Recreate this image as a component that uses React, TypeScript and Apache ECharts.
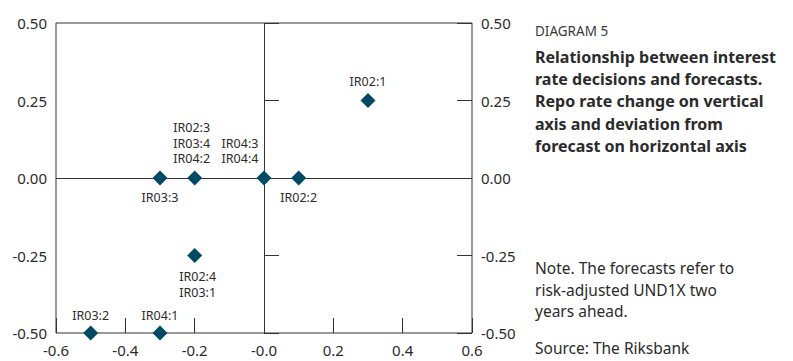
import React, { useEffect, useRef } from "react";
import * as echarts from "echarts";

// Data
const pointNames = [
  "IR02:1",
  "IR02:2",
  "IR02:3\nIR03:4\nIR04:2",
  "IR04:3\nIR04:4",
  "IR03:3",
  "IR02:4\nIR03:1",
  "IR03:2",
  "IR04:1",
];
const forecastDeviation = [0.3, 0.1, -0.2, 0.0, -0.3, -0.2, -0.5, -0.3];
const repoRateChange = [0.25, 0.0, 0.0, 0.0, 0.0, -0.25, -0.5, -0.5];

const diagramLabel = "DIAGRAM 5";
const titleLines = [
  "Relationship between interest",
  "rate decisions and forecasts.",
  "Repo rate change on vertical",
  "axis and deviation from",
  "forecast on horizontal axis",
];
const noteLines = [
  "Note. The forecasts refer to",
  "risk-adjusted UND1X two",
  "years ahead.",
];
const sourceText = "Source: The Riksbank";

const MARKER = "#004a66";
const AXIS = "#333333";
const TEXT = "#2b2b2b";
const FONT = "'Noto Sans', 'Open Sans', sans-serif";

// label placement per point (style only)
const labelPlacement: Record<number, any> = {
  0: { position: "top", distance: 4 },
  1: { position: "bottom", distance: 4 },
  2: { position: "top", distance: 4, offset: [-3, 0] },
  3: { position: "top", distance: 4, offset: [-24, 0] },
  4: { position: "bottom", distance: 4 },
  5: { position: "bottom", distance: 6, offset: [3, 0] },
  6: { position: "top", distance: 2 },
  7: { position: "top", distance: 2 },
};

export default function App() {
  const ref = useRef<HTMLDivElement>(null);

  useEffect(() => {
    if (!ref.current) return;
    const chart = echarts.init(ref.current, null, { renderer: "svg" });

    const data = pointNames.map((name, i) => ({
      name,
      value: [forecastDeviation[i], repoRateChange[i]],
      label: {
        show: true,
        formatter: name,
        color: TEXT,
        ...labelPlacement[i],
      },
    }));

    const yAxisCommon = {
      type: "value",
      min: -0.5,
      max: 0.5,
      interval: 0.25,
      axisLine: { show: false },
      axisTick: {
        show: true,
        inside: true,
        length: 15,
        lineStyle: { color: AXIS, width: 1 },
      },
      splitLine: { show: false },
      axisLabel: {
        color: TEXT,
        fontFamily: FONT,
        fontSize: 15,
        margin: 9,
        formatter: (v: number) => v.toFixed(2),
      },
    };

    const textStyle = (bold: boolean, size: number) => ({
      fill: TEXT,
      font: `${bold ? "bold " : ""}${size}px ${FONT}`,
    });

    const graphics: any[] = [];
    graphics.push({
      type: "text",
      left: 535,
      top: 24,
      style: { text: diagramLabel, ...textStyle(false, 13.5), fill: "#3a3a3a" },
    });
    titleLines.forEach((t, i) => {
      graphics.push({
        type: "text",
        left: 535,
        top: 49 + i * 22.2,
        style: { text: t, ...textStyle(true, 16) },
      });
    });
    noteLines.forEach((t, i) => {
      graphics.push({
        type: "text",
        left: 535,
        top: 260 + i * 21.5,
        style: { text: t, ...textStyle(false, 15.5) },
      });
    });
    graphics.push({
      type: "text",
      left: 535,
      top: 340,
      style: { text: sourceText, ...textStyle(false, 15.5) },
    });

    chart.setOption({
      animation: false,
      grid: {
        left: 56,
        right: 321,
        top: 23,
        bottom: 28,
        show: true,
        borderColor: AXIS,
        borderWidth: 1,
        backgroundColor: "transparent",
      },
      xAxis: {
        type: "value",
        min: -0.6,
        max: 0.6,
        interval: 0.2,
        axisLine: { show: false, onZero: false },
        axisTick: {
          show: true,
          inside: true,
          length: 15,
          lineStyle: { color: AXIS, width: 1 },
        },
        splitLine: { show: false },
        axisLabel: {
          color: TEXT,
          fontFamily: FONT,
          fontSize: 15,
          margin: 9,
          formatter: (v: number) =>
            Math.abs(v) < 1e-9 ? "-0.0" : v.toFixed(1),
        },
      },
      yAxis: [
        { ...yAxisCommon, position: "left" },
        { ...yAxisCommon, position: "right" },
      ],
      graphic: graphics,
      series: [
        {
          type: "scatter",
          yAxisIndex: 0,
          symbol: "diamond",
          symbolSize: 15,
          itemStyle: { color: MARKER, opacity: 1 },
          label: {
            show: true,
            color: TEXT,
            fontFamily: FONT,
            fontSize: 12.5,
            lineHeight: 15.5,
            align: "center",
          },
          data,
          markLine: {
            silent: true,
            symbol: "none",
            label: { show: false },
            lineStyle: { color: AXIS, width: 1, type: "solid" },
            data: [{ xAxis: 0 }, { yAxis: 0 }],
            z: 1,
          },
          z: 3,
        },
      ],
    });

    return () => chart.dispose();
  }, []);

  return (
    <div
      ref={ref}
      style={{
        position: "fixed",
        left: 0,
        top: 0,
        width: 793,
        height: 361,
        background: "#fff",
      }}
    />
  );
}
